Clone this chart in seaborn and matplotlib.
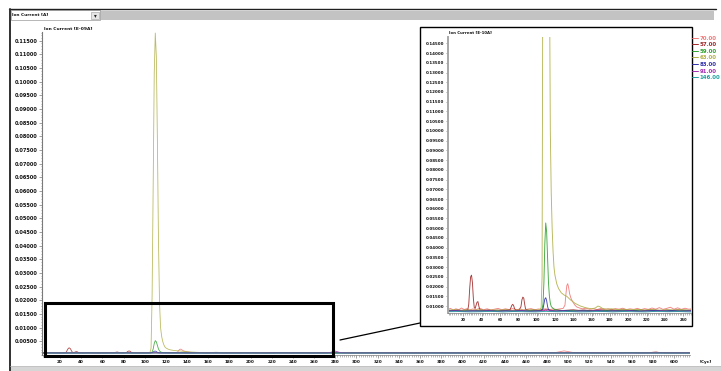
import numpy as np
import pandas as pd
import matplotlib
matplotlib.use("Agg")
import matplotlib.pyplot as plt
import seaborn as sns
from matplotlib.lines import Line2D
from matplotlib.patches import Rectangle
from matplotlib.ticker import MultipleLocator, FixedLocator, FormatStrFormatter

# Ion current traces per mass, (cycle, current in 1e-10 A)
masses = ["70.00", "57.00", "59.00", "63.00", "83.00", "91.00", "146.00"]
colors = ["#f07878", "#a02828", "#2ea02e", "#b0b048", "#3030a8", "#a030b0", "#20a0a0"]

m70 = [(3, .0083), (6, .0088), (9, .0080), (12, .0086), (15, .0081), (18, .0090), (21, .0082), (24, .0087),
       (27, .0080), (30, .0085), (34, .0082), (38, .0089), (42, .0081), (46, .0086), (50, .0080), (54, .0084),
       (58, .0088), (62, .0081), (66, .0086), (70, .0082), (74, .0087), (78, .0081), (82, .0085), (86, .0080),
       (90, .0084), (94, .0087), (98, .0081), (102, .0085), (106, .0083), (110, .0086), (114, .0082), (118, .0085),
       (122, .0083), (126, .0086), (129, .0088), (131, .0105), (132, .0160), (133, .0205), (134, .0215),
       (135, .0195), (136, .0165), (137, .0148), (138, .0135), (140, .0118), (142, .0104), (144, .0095),
       (147, .0090), (150, .0086), (154, .0089), (158, .0083), (162, .0087), (166, .0082), (170, .0088),
       (174, .0083), (178, .0086), (182, .0081), (186, .0087), (190, .0084), (194, .0089), (198, .0082),
       (202, .0086), (206, .0083), (210, .0088), (214, .0082), (218, .0087), (222, .0083), (226, .0090),
       (230, .0084), (234, .0092), (238, .0083), (242, .0088), (246, .0094), (250, .0084), (254, .0091),
       (258, .0083), (262, .0089), (266, .0084), (270, .0086), (285, .0083), (300, .0087), (320, .0082),
       (340, .0086), (360, .0083), (380, .0087), (400, .0082), (420, .0086), (440, .0083), (460, .0087),
       (480, .0085), (488, .0090), (492, .0120), (496, .0150), (500, .0125), (504, .0095), (510, .0086),
       (530, .0083), (550, .0087), (570, .0082), (590, .0088), (600, .0084), (615, .0085)]

m57 = [(3, .0079), (8, .0077), (13, .0080), (18, .0078), (22, .0079), (25, .0082), (26, .0110), (27, .0190),
       (28, .0250), (29, .0259), (30, .0220), (31, .0140), (32, .0092), (33, .0088), (34, .0105), (35, .0120),
       (36, .0123), (37, .0100), (38, .0082), (42, .0078), (47, .0080), (52, .0077), (57, .0079), (62, .0078),
       (67, .0080), (71, .0081), (72, .0092), (73, .0104), (74, .0109), (75, .0102), (76, .0086), (78, .0079),
       (81, .0080), (83, .0098), (84, .0132), (85, .0146), (86, .0141), (87, .0110), (88, .0084), (92, .0078),
       (97, .0080), (102, .0077), (107, .0079), (112, .0081), (117, .0078), (122, .0080), (128, .0077),
       (134, .0079), (140, .0081), (146, .0078), (152, .0080), (158, .0077), (164, .0079), (170, .0081),
       (176, .0078), (182, .0080), (188, .0078), (194, .0081), (200, .0079), (206, .0077), (212, .0080),
       (218, .0078), (224, .0081), (230, .0079), (236, .0077), (242, .0080), (248, .0078), (254, .0081),
       (260, .0079), (266, .0078), (280, .0080), (300, .0078), (320, .0081), (340, .0079), (360, .0077),
       (380, .0080), (400, .0078), (420, .0081), (440, .0079), (460, .0078), (480, .0080), (500, .0082),
       (520, .0079), (540, .0078), (560, .0080), (576, .0082), (580, .0100), (583, .0110), (586, .0092),
       (592, .0080), (600, .0079), (615, .0078)]

m59 = [(3, .0076), (10, .0078), (17, .0075), (24, .0077), (31, .0076), (38, .0078), (45, .0075), (52, .0077),
       (59, .0076), (66, .0078), (73, .0075), (80, .0077), (87, .0076), (94, .0078), (100, .0076), (104, .0078),
       (106, .0084), (107, .0110), (108, .0220), (109, .0420), (110, .0527), (111, .0480), (112, .0350),
       (113, .0220), (114, .0150), (115, .0115), (116, .0098), (118, .0088), (120, .0082), (124, .0079),
       (130, .0077), (137, .0078), (144, .0076), (151, .0078), (158, .0075), (165, .0077), (172, .0076),
       (179, .0078), (186, .0075), (193, .0077), (200, .0076), (207, .0078), (214, .0075), (221, .0077),
       (228, .0076), (235, .0078), (242, .0075), (249, .0077), (256, .0076), (263, .0078), (270, .0076),
       (290, .0077), (310, .0075), (330, .0077), (350, .0076), (370, .0078), (390, .0075), (410, .0077),
       (430, .0076), (450, .0078), (470, .0075), (490, .0077), (510, .0076), (530, .0078), (550, .0080),
       (556, .0095), (560, .0090), (566, .0077), (580, .0076), (600, .0078), (615, .0076)]

m63 = [(3, .0079), (10, .0081), (17, .0078), (24, .0080), (31, .0079), (38, .0081), (45, .0078), (52, .0080),
       (59, .0079), (66, .0081), (73, .0078), (80, .0080), (87, .0079), (94, .0081), (100, .0080), (104, .0082),
       (105, .0092), (106, .0250), (107, .2200), (108, .6200), (109, 1.0300), (110, 1.1780), (111, 1.0900),
       (112, .7800), (113, .4200), (114, .1900), (115, .1000), (116, .0680), (117, .0500), (118, .0380),
       (119, .0300), (120, .0260), (122, .0215), (124, .0190), (127, .0168), (130, .0157), (133, .0150),
       (137, .0132), (142, .0114), (148, .0100), (154, .0091), (160, .0086), (164, .0090), (167, .0100),
       (169, .0097), (172, .0088), (176, .0084), (182, .0086), (188, .0082), (195, .0084), (202, .0081),
       (210, .0083), (218, .0080), (226, .0082), (234, .0079), (242, .0081), (250, .0080), (258, .0082),
       (266, .0079), (285, .0081), (305, .0079), (325, .0080), (345, .0078), (365, .0081), (385, .0079),
       (405, .0080), (425, .0078), (445, .0081), (465, .0079), (485, .0082), (505, .0080), (525, .0079),
       (545, .0081), (565, .0078), (585, .0080), (600, .0079), (615, .0080)]

m83 = [(3, .0075), (12, .0077), (21, .0074), (30, .0076), (39, .0075), (48, .0077), (57, .0074), (66, .0076),
       (75, .0075), (84, .0077), (93, .0074), (100, .0076), (105, .0076), (107, .0086), (108, .0110),
       (109, .0136), (110, .0143), (111, .0128), (112, .0098), (113, .0082), (115, .0076), (122, .0075),
       (131, .0077), (140, .0074), (149, .0076), (158, .0075), (167, .0077), (176, .0074), (185, .0076),
       (194, .0075), (203, .0077), (212, .0074), (221, .0076), (230, .0078), (239, .0075), (248, .0077),
       (257, .0074), (266, .0076), (290, .0075), (315, .0077), (340, .0074), (365, .0076), (390, .0075),
       (415, .0077), (440, .0074), (465, .0076), (490, .0075), (515, .0077), (540, .0074), (565, .0076),
       (590, .0075), (615, .0076)]

m91 = [(3, .0073), (12, .0075), (21, .0072), (30, .0074), (39, .0073), (48, .0075), (57, .0072), (66, .0074),
       (75, .0073), (84, .0075), (93, .0072), (102, .0074), (108, .0076), (110, .0080), (112, .0075),
       (120, .0073), (129, .0075), (138, .0072), (147, .0074), (156, .0073), (165, .0075), (174, .0072),
       (183, .0074), (192, .0073), (201, .0075), (210, .0072), (219, .0074), (228, .0073), (237, .0075),
       (246, .0072), (255, .0074), (264, .0073), (272, .0075), (276, .0100), (279, .0150), (282, .0120),
       (285, .0085), (290, .0074), (310, .0073), (335, .0075), (360, .0072), (385, .0074), (410, .0073),
       (435, .0075), (460, .0072), (485, .0074), (510, .0073), (535, .0075), (560, .0072), (585, .0074),
       (615, .0073)]

m146 = [(3, .0071), (15, .0072), (27, .0070), (39, .0071), (51, .0073), (63, .0070), (75, .0072), (87, .0071),
        (99, .0070), (111, .0073), (123, .0071), (135, .0072), (147, .0070), (159, .0071), (171, .0073),
        (183, .0070), (195, .0072), (207, .0071), (219, .0070), (231, .0073), (243, .0071), (255, .0072),
        (267, .0070), (290, .0071), (320, .0072), (350, .0070), (380, .0071), (410, .0073), (440, .0070),
        (470, .0072), (500, .0071), (530, .0070), (560, .0072), (590, .0071), (615, .0070)]

traces = [m70, m57, m59, m63, m83, m91, m146]

frames = []
for mass, pts in zip(masses, traces):
    cyc, cur = zip(*pts)
    frames.append(pd.DataFrame({"cycle": cyc, "e10": cur, "mass": mass}))
df = pd.concat(frames, ignore_index=True)
df["e09"] = df["e10"] / 10.0

sns.set_theme(style="white")
plt.rcParams["font.family"] = ["DejaVu Sans"]
plt.rcParams["font.weight"] = "bold"

W, H = 721, 371
fig = plt.figure(figsize=(W / 100, H / 100), dpi=100)
fig.patch.set_facecolor("white")


def fx(x):
    return x / W


def fy(y):
    return 1 - y / H


def frame_box(x0, y0, x1, y1, **kw):
    return Rectangle((fx(x0), fy(y1)), fx(x1) - fx(x0), fy(y0) - fy(y1),
                     transform=fig.transFigure, **kw)


palette = dict(zip(masses, colors))
axis_grey = "#7a7a7a"

# ---- window chrome: selector bar, borders, scroll strip
fig.add_artist(Line2D([fx(9), fx(716)], [fy(9), fy(9)], transform=fig.transFigure, color="#202020", lw=1.0))
fig.add_artist(Line2D([fx(10), fx(10)], [fy(9), fy(371)], transform=fig.transFigure, color="#303030", lw=1.4))
fig.add_artist(frame_box(100, 11, 714, 19.5, facecolor="#c3c3c3", edgecolor="none"))
fig.add_artist(frame_box(11, 10.5, 100, 20, facecolor="white", edgecolor="#9a9a9a", lw=0.5))
fig.add_artist(frame_box(91, 11.5, 99, 19, facecolor="#e6e6e6", edgecolor="#9a9a9a", lw=0.4))
fig.text(fx(95), fy(15.3), "\u25be", fontsize=4, ha="center", va="center", color="#222222")
fig.text(fx(12.5), fy(15.3), "Ion Current [A]", fontsize=3.1, ha="left", va="center", color="#111111")
fig.add_artist(frame_box(10, 365.5, 721, 371, facecolor="#d6d6d6", edgecolor="none"))
fig.add_artist(Line2D([fx(10), fx(721)], [fy(365.5), fy(365.5)], transform=fig.transFigure, color="#bcbcbc", lw=0.5))

# ---- main chromatogram (1e-9 A)
ax = fig.add_axes([fx(42), fy(355), fx(690) - fx(42), fy(31.7) - fy(355)])
sns.lineplot(data=df, x="cycle", y="e09", hue="mass", hue_order=masses, palette=palette,
             estimator=None, sort=True, linewidth=0.6, alpha=0.85, legend=False, ax=ax)
ax.set_xlim(3, 615)
ax.set_ylim(0, 0.1183)
ax.set_xlabel("")
ax.set_ylabel("")
ax.xaxis.set_major_locator(FixedLocator(np.arange(20, 601, 20)))
ax.xaxis.set_minor_locator(MultipleLocator(2))
ax.yaxis.set_major_locator(FixedLocator(np.arange(0.005, 0.1151, 0.005)))
ax.yaxis.set_minor_locator(MultipleLocator(0.001))
ax.yaxis.set_major_formatter(FormatStrFormatter("%.5f"))
ax.tick_params(axis="y", which="major", length=2, width=0.5, color=axis_grey, labelsize=3.6, pad=1.2,
               labelcolor="#111111", left=True)
ax.tick_params(axis="y", which="minor", length=1, width=0.4, color=axis_grey, left=True)
ax.tick_params(axis="x", which="major", length=2.2, width=0.5, color=axis_grey, labelsize=3.0, pad=1.3,
               labelcolor="#111111", bottom=True)
ax.tick_params(axis="x", which="minor", length=1.4, width=0.4, color=axis_grey, bottom=True)
for side in ("top", "right"):
    ax.spines[side].set_visible(False)
ax.spines["left"].set_color(axis_grey)
ax.spines["left"].set_linewidth(0.8)
ax.spines["bottom"].set_color(axis_grey)
ax.spines["bottom"].set_linewidth(0.5)
ax.set_facecolor("white")
fig.text(fx(43.5), fy(28.7), "Ion Current [E-09A]", fontsize=3.2, ha="left", va="center", color="#111111")
fig.text(fx(700), fy(362), "[Cyc]", fontsize=3.0, ha="left", va="center", color="#111111")

# zoom marker around the low-level region and its leader line
fig.add_artist(frame_box(45, 303, 333, 356, fill=False, edgecolor="black", lw=2.2))
fig.add_artist(Line2D([fx(340), fx(420)], [fy(340), fy(323)], transform=fig.transFigure, color="black", lw=0.9))

# ---- magnified view (1e-10 A)
fig.add_artist(frame_box(420, 26.7, 691.5, 326, facecolor="white", edgecolor="black", lw=1.0, zorder=2))
axi = fig.add_axes([fx(447.7), fy(312.7), fx(690.5) - fx(447.7), fy(36.7) - fy(312.7)], zorder=3)
sns.lineplot(data=df, x="cycle", y="e10", hue="mass", hue_order=masses, palette=palette,
             estimator=None, sort=True, linewidth=0.65, alpha=0.9, legend=False, ax=axi)
axi.set_xlim(3, 268)
axi.set_ylim(0.0066, 0.1484)
axi.set_xlabel("")
axi.set_ylabel("")
axi.xaxis.set_major_locator(FixedLocator(np.arange(20, 261, 20)))
axi.xaxis.set_minor_locator(MultipleLocator(2))
axi.yaxis.set_major_locator(FixedLocator(np.arange(0.010, 0.1451, 0.005)))
axi.yaxis.set_minor_locator(MultipleLocator(0.001))
axi.yaxis.set_major_formatter(FormatStrFormatter("%.5f"))
axi.tick_params(axis="y", which="major", length=1.6, width=0.5, color=axis_grey, labelsize=2.9, pad=1.0,
                labelcolor="#111111", left=True)
axi.tick_params(axis="y", which="minor", length=0.9, width=0.4, color=axis_grey, left=True)
axi.tick_params(axis="x", which="major", length=2.0, width=0.5, color=axis_grey, labelsize=2.6, pad=1.6,
                labelcolor="#111111", bottom=True)
axi.tick_params(axis="x", which="minor", length=1.3, width=0.4, color=axis_grey, bottom=True)
for side in ("top", "right"):
    axi.spines[side].set_visible(False)
axi.spines["left"].set_color("#a8a8a8")
axi.spines["left"].set_linewidth(1.4)
axi.spines["bottom"].set_color(axis_grey)
axi.spines["bottom"].set_linewidth(0.5)
axi.set_facecolor("white")
fig.text(fx(449), fy(33.3), "Ion Current [E-10A]", fontsize=2.8, ha="left", va="center", color="#111111", zorder=4)

# mass legend beside the magnified view
handles = [Line2D([0], [0], color=c, lw=0.7) for c in colors]
fig.legend(handles, masses, loc="upper left", bbox_to_anchor=(fx(691.5), fy(35.5)), frameon=False,
           prop={"size": 3.9, "weight": "bold"}, handlelength=1.25, handletextpad=0.25, labelspacing=0.3,
           borderpad=0, borderaxespad=0, labelcolor="linecolor")

fig.savefig("out.png", dpi=100, facecolor="white")
